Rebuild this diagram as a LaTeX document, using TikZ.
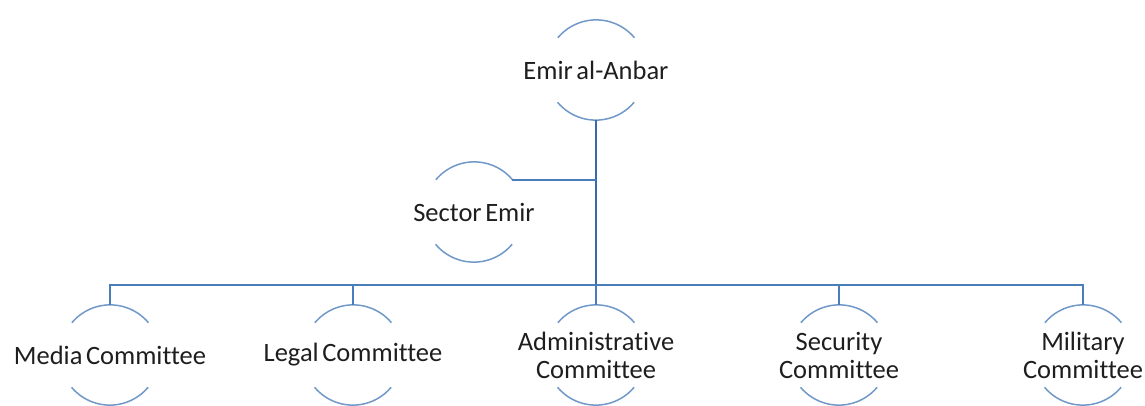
\documentclass[tikz,border=0pt]{standalone}
\usepackage{fontspec}
\setmainfont{Carlito}[Ligatures=NoCommon, WordSpace=0.6]
\usepackage{xcolor}
\usetikzlibrary{positioning}
\definecolor{linkblue}{HTML}{4A7EBB}
\definecolor{trunkblue}{HTML}{3C6AA5}
\definecolor{ringblue}{HTML}{7098C8}
\definecolor{txtgray}{HTML}{1E1E1E}

\begin{document}
\begin{tikzpicture}[x=1pt, y=1pt,
    member/.style={circle, minimum size=100pt, inner sep=0pt},
    lbl/.style={align=center, text=txtgray, font=\fontsize{26.5}{28}\selectfont},
    link/.style={draw=linkblue, line width=1.6pt},
    trunk/.style={draw=trunkblue, line width=2.6pt},
    ring/.style={draw=ringblue, line width=1.5pt}]

        \useasboundingbox (0,0) rectangle (1145,405);

        % Nodos
        \node[member, label={[lbl]center:Emir al-Anbar}] (emir) at (596,335) {};
        \node[member, label={[lbl]center:Sector Emir}] (sector) at (474,193) {};
        \node[member, label={[lbl]center:Media Committee}] (media) at (110,50) {};
        \node[member, label={[lbl]center:Legal Committee}] (legal) at (353,50) {};
        \node[member, label={[lbl]center:Administrative\\Committee}] (admin) at (596,50) {};
        \node[member, label={[lbl]center:Security\\Committee}] (security) at (839,50) {};
        \node[member, label={[lbl]center:Military\\Committee}] (military) at (1083,50) {};
        \coordinate (bus) at (596,120);

        % Arcos
        \foreach \n in {emir, sector, media, legal, admin, security, military} {
            \draw[ring] (\n.40) arc (40:140:50pt);
            \draw[ring] (\n.220) arc (220:320:50pt);
        }

        % Aristas
        \draw[trunk] (emir.south) -- (bus);
        \draw[link] (sector.40) -- (sector.40 -| emir.south);
        \draw[link] (media.north) |- (bus);
        \draw[link] (legal.north) |- (bus);
        \draw[link] (admin.north) -- (bus);
        \draw[link] (security.north) |- (bus);
        \draw[link] (military.north) |- (bus);

    \end{tikzpicture}
\end{document}
